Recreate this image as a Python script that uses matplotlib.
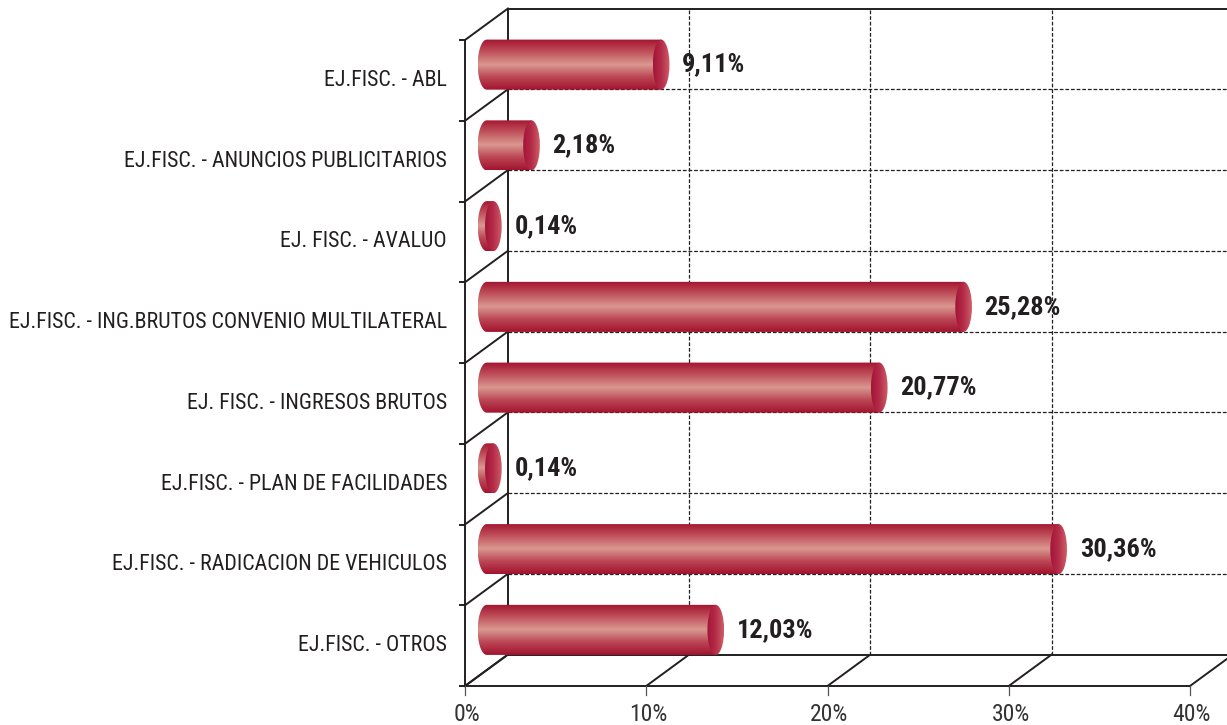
import numpy as np
import matplotlib
matplotlib.use("Agg")
from matplotlib import pyplot as plt
from matplotlib.colors import LinearSegmentedColormap
from matplotlib.patches import Ellipse, PathPatch
from matplotlib.path import Path

# data (top to bottom)
categories = ["EJ.FISC. - ABL",
              "EJ.FISC. - ANUNCIOS PUBLICITARIOS",
              "EJ. FISC. - AVALUO",
              "EJ.FISC. - ING.BRUTOS CONVENIO MULTILATERAL",
              "EJ. FISC. - INGRESOS BRUTOS",
              "EJ.FISC. - PLAN DE FACILIDADES",
              "EJ.FISC. - RADICACION DE VEHICULOS",
              "EJ.FISC. - OTROS"]
values = [9.11, 2.18, 0.14, 25.28, 20.77, 0.14, 30.36, 12.03]
value_labels = ["9,11%", "2,18%", "0,14%", "25,28%", "20,77%", "0,14%", "30,36%", "12,03%"]
xticks = [0, 10, 20, 30, 40]
xtick_labels = ["0%", "10%", "20%", "30%", "40%"]

plt.rcParams['font.family'] = ['Roboto Condensed', 'DejaVu Sans']

fig = plt.figure(figsize=(12.27, 7.25), dpi=100)
ax = fig.add_axes([0, 0, 1, 1])
ax.axis("off")

n = len(categories)
dx = 2.37   # depth offset in %
dy = 0.39   # depth offset in rows
ink = "#231f20"
lw = 1.4

# walls / floor
ax.plot([0, 0], [0, n], color=ink, lw=lw, zorder=1)
ax.plot([dx, dx], [dy, n + dy], color=ink, lw=lw, zorder=1)
ax.plot([dx, 40 + dx], [n + dy, n + dy], color=ink, lw=lw, zorder=1)
for k in range(n + 1):
    ax.plot([0, dx], [k, k + dy], color=ink, lw=lw, zorder=1)
    ax.plot([-0.3, 0], [k, k], color=ink, lw=lw, zorder=1)
for k in range(1, n):
    ax.plot([dx, 40 + dx], [k + dy, k + dy], color=ink, lw=0.9, ls=(0, (3, 1.5)), zorder=1)
for t in xticks[1:-1]:
    ax.plot([t + dx, t + dx], [dy, n + dy], color=ink, lw=0.9, ls=(0, (3, 1.5)), zorder=1)
ax.plot([0, 40], [0, 0], color=ink, lw=lw, zorder=1)
ax.plot([dx, 40 + dx], [dy, dy], color=ink, lw=lw, zorder=1)
for t, lab in zip(xticks, xtick_labels):
    ax.plot([t, t + dx], [0, dy], color=ink, lw=lw, zorder=1)
    ax.plot([t, t], [0, -0.11], color="#555555", lw=0.9, zorder=1)
    ax.text(t + 0.1, -0.35, lab, ha="center", va="center", fontsize=17, color="#333333")

# cylinders
body_cmap = LinearSegmentedColormap.from_list(
    "body", ["#a3132f", "#bb4654", "#d99890", "#c0525c", "#a3132f"])
cap_cmap = LinearSegmentedColormap.from_list("cap", ["#a3143a", "#b52c48", "#cc6068"])
grad_v = np.linspace(0, 1, 200).reshape(-1, 1)
grad_h = np.linspace(0, 1, 100).reshape(1, -1)

x0 = 1.2      # left end centre
start = 1.42  # where the scale starts for the right cap
hw_left = 0.5
hw_cap = 0.46
scale = 1.032
h = 0.62

for i, (cat, v, lab) in enumerate(zip(categories, values, value_labels)):
    row = n - 1 - i
    yc = row + 0.5 + dy / 2
    xc = start + v * scale
    y0, y1 = yc - h / 2, yc + h / 2

    th = np.linspace(np.pi / 2, 3 * np.pi / 2, 60)
    verts = [(xc, y1)] + [(x0 + hw_left * np.cos(a), yc + h / 2 * np.sin(a)) for a in th] + [(xc, y0), (xc, y1)]
    codes = [Path.MOVETO] + [Path.LINETO] * (len(verts) - 2) + [Path.CLOSEPOLY]
    body = PathPatch(Path(verts, codes), facecolor="none", edgecolor="none", transform=ax.transData)
    ax.add_patch(body)
    im = ax.imshow(grad_v, extent=[x0 - hw_left, xc, y0, y1], cmap=body_cmap,
                   aspect="auto", origin="lower", zorder=3, interpolation="bilinear")
    im.set_clip_path(body)

    cap = Ellipse((xc, yc), 2 * hw_cap, h, facecolor="none", edgecolor="none", transform=ax.transData)
    ax.add_patch(cap)
    im2 = ax.imshow(grad_h, extent=[xc - hw_cap, xc + hw_cap, y0, y1], cmap=cap_cmap,
                    aspect="auto", origin="lower", zorder=4, interpolation="bilinear")
    im2.set_clip_path(cap)

    ax.text(xc + hw_cap + 0.7, yc, lab, ha="left", va="center", fontsize=19,
            fontweight="bold", color=ink, zorder=5)
    ax.text(-1.0, row + 0.5, cat, ha="right", va="center", fontsize=15.8, color=ink)

ax.set_xlim(-465 / 18.125, (1227 - 465) / 18.125)
ax.set_ylim(-(725 - 686) / 80.75, 686 / 80.75)

plt.savefig("out.png", dpi=100)
